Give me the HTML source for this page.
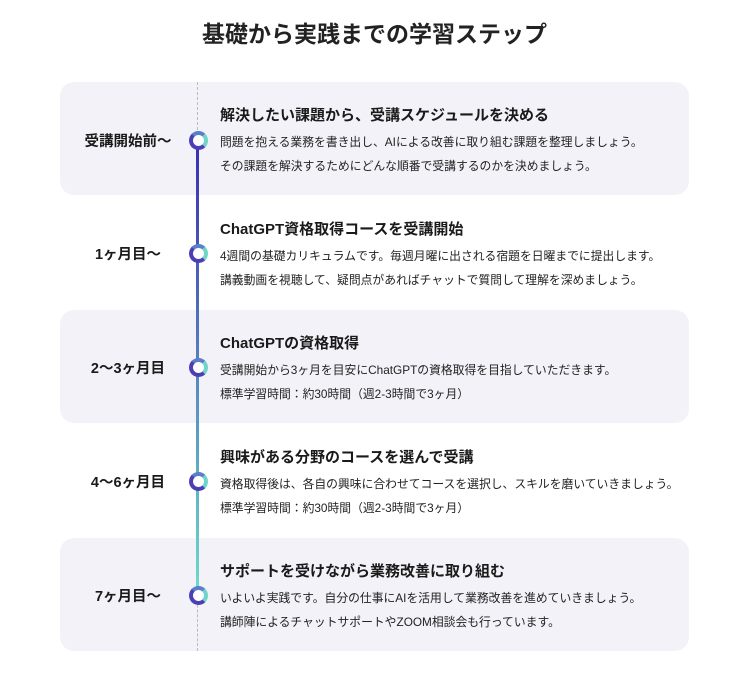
<!DOCTYPE html>
<html><head><meta charset="utf-8"><style>
body{margin:0;width:749px;height:678px;background:#fff;font-family:"Liberation Sans","Noto Sans CJK JP",sans-serif;color:#1a1a1a;position:relative;overflow:hidden}
h1{position:absolute;top:15px;left:0;width:749px;text-align:center;margin:0;font-size:23px;font-weight:bold;color:#222}
.card{position:absolute;left:60px;width:629px;height:113px;border-radius:14px;background:#f3f2f8}
.lab{position:absolute;left:60px;width:136px;text-align:center;font-size:14.5px;font-weight:bold}
.t{position:absolute;left:220px;font-size:15px;font-weight:bold}
.b{position:absolute;left:220px;font-size:11.8px;line-height:24px;color:#222}
.dot{position:absolute;left:189px;width:11px;height:11px;border-radius:50%;border:4px solid #4a3fb5;background:#fff;border-right-color:#6fd5c9;border-top-color:#5a7fc8}
</style></head><body>
<h1>基礎から実践までの学習ステップ</h1>
<div class="card" style="top:82px"></div>
<div class="card" style="top:310px"></div>
<div class="card" style="top:538px"></div>
<div style="position:absolute;left:197px;top:82px;height:58px;border-left:1px dashed #bbb"></div>
<div style="position:absolute;left:197px;top:595px;height:56px;border-left:1px dashed #bbb"></div>
<div style="position:absolute;left:196px;top:140px;width:3px;height:455px;background:linear-gradient(#3b2cb0,#6fdcca)"></div>

<div class="dot" style="top:131px"></div>
<div class="dot" style="top:244px"></div>
<div class="dot" style="top:358px"></div>
<div class="dot" style="top:472px"></div>
<div class="dot" style="top:586px"></div>

<div class="lab" style="top:130px">受講開始前〜</div>
<div class="t" style="top:104px">解決したい課題から、受講スケジュールを決める</div>
<div class="b" style="top:130px">問題を抱える業務を書き出し、AIによる改善に取り組む課題を整理しましょう。<br>その課題を解決するためにどんな順番で受講するのかを決めましょう。</div>

<div class="lab" style="top:243px">1ヶ月目〜</div>
<div class="t" style="top:218px">ChatGPT資格取得コースを受講開始</div>
<div class="b" style="top:244px">4週間の基礎カリキュラムです。毎週月曜に出される宿題を日曜までに提出します。<br>講義動画を視聴して、疑問点があればチャットで質問して理解を深めましょう。</div>

<div class="lab" style="top:357px">2〜3ヶ月目</div>
<div class="t" style="top:332px">ChatGPTの資格取得</div>
<div class="b" style="top:358px">受講開始から3ヶ月を目安にChatGPTの資格取得を目指していただきます。<br>標準学習時間：約30時間（週2-3時間で3ヶ月）</div>

<div class="lab" style="top:471px">4〜6ヶ月目</div>
<div class="t" style="top:446px">興味がある分野のコースを選んで受講</div>
<div class="b" style="top:472px">資格取得後は、各自の興味に合わせてコースを選択し、スキルを磨いていきましょう。<br>標準学習時間：約30時間（週2-3時間で3ヶ月）</div>

<div class="lab" style="top:585px">7ヶ月目〜</div>
<div class="t" style="top:560px">サポートを受けながら業務改善に取り組む</div>
<div class="b" style="top:586px">いよいよ実践です。自分の仕事にAIを活用して業務改善を進めていきましょう。<br>講師陣によるチャットサポートやZOOM相談会も行っています。</div>
</body></html>
